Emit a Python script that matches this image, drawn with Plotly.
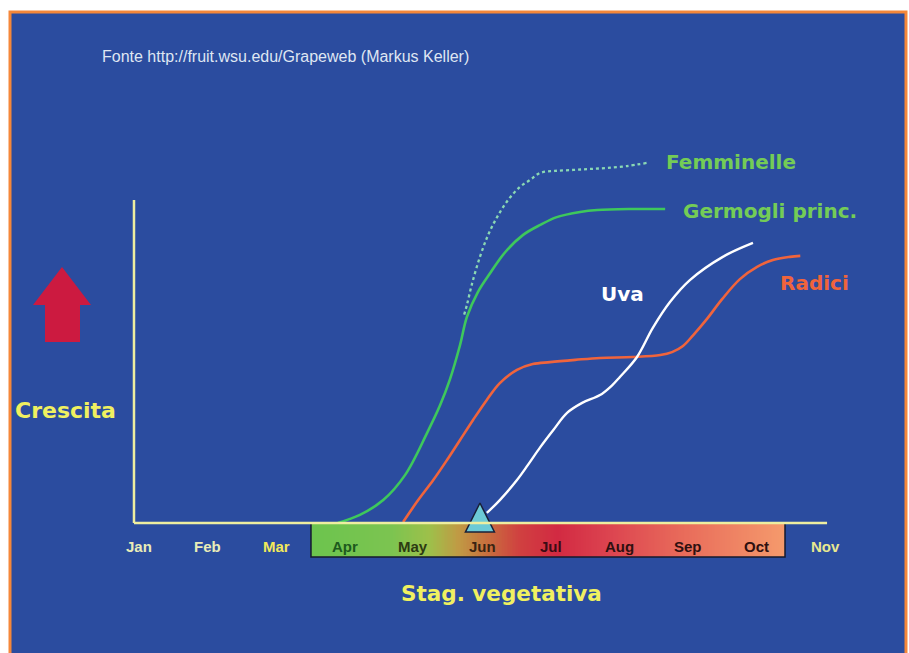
import numpy as np
import plotly.graph_objects as go

W, H = 909, 653

# ---------------- data ----------------
months = ["Jan", "Feb", "Mar", "Apr", "May", "Jun", "Jul", "Aug", "Sep", "Oct", "Nov"]
month_pos = [1, 2, 3, 4, 5, 6, 7, 8, 9, 10, 11]
month_colors = ["#e9ecb8", "#e9ecb8", "#f2e95a", "#1d5a1d", "#2c3a12", "#3a2412",
                "#3a0c14", "#2e1010", "#2e1010", "#2e1010", "#e8e890"]

# Germogli princ. (main shoots)
germ_x = [3.90, 4.22, 4.56, 4.88, 5.20, 5.39, 5.53, 5.68, 5.78, 5.94, 6.12, 6.34,
          6.60, 6.85, 7.09, 7.43, 7.68, 8.16, 8.67]
germ_y = [0.0, 2.5, 7.1, 14.9, 27.9, 36.5, 44.3, 55.1, 63.8, 71.5, 77.4, 83.9,
          89.2, 92.3, 94.7, 96.3, 96.9, 97.2, 97.2]

# Femminelle (lateral shoots)
femm_x = [5.74, 5.78, 5.85, 5.97, 6.09, 6.22, 6.38, 6.55, 6.70, 6.85, 7.06, 7.33,
          7.57, 7.82, 8.11, 8.41]
femm_y = [64.5, 67.5, 73.7, 82.4, 89.2, 94.7, 100.0, 104.0, 106.2, 108.4, 109.0,
          109.3, 109.6, 109.9, 110.5, 111.5]

# Radici (roots)
rad_x = [4.85, 5.07, 5.29, 5.49, 5.68, 5.87, 6.07, 6.26, 6.51, 6.74, 6.99, 7.36,
         7.72, 8.20, 8.60, 8.77, 8.93, 9.08, 9.28, 9.50, 9.76, 10.01, 10.24,
         10.49, 10.64]
rad_y = [0.3, 7.1, 13.3, 19.5, 25.7, 31.9, 38.1, 43.3, 47.4, 49.2, 49.8, 50.5,
         51.1, 51.4, 52.0, 52.9, 54.8, 58.2, 63.2, 69.3, 75.5, 79.3, 81.4,
         82.4, 82.7]

# Uva (berries)
uva_x = [6.07, 6.26, 6.51, 6.67, 6.85, 7.04, 7.24, 7.46, 7.72, 7.90, 8.01, 8.26,
         8.49, 8.74, 9.03, 9.51, 9.95]
uva_y = [3.1, 7.1, 13.3, 18.0, 23.5, 28.8, 34.1, 37.2, 39.6, 42.7, 45.2, 51.4,
         60.4, 68.4, 75.2, 82.4, 86.7]

# fruit-set marker (triangle)
set_x = [5.97]
set_y = [6.2]

# season bar colour stops (fraction along bar, colour)
season_stops = [[0.0, "#6cc44e"], [0.17, "#7cc450"], [0.25, "#9ec04a"],
                [0.31, "#c09a44"], [0.37, "#c8703e"], [0.44, "#d04040"],
                [0.52, "#d22a42"], [0.63, "#dc4450"], [0.78, "#e86a5a"],
                [1.0, "#f59a6c"]]

# ---------------- geometry helpers ----------------
X_RANGE = [-1.0262, 12.2245]   # months across full figure width
Y_RANGE = [-40.25, 161.92]     # growth units across full figure height
BAR_X = [3.507, 10.417]
BAR_Y = [-10.53, 0.0]
AXIS_X0, AXIS_X1, AXIS_YTOP = 0.927, 11.03, 100.0


def px(x):
    return x / W


def py(y):
    return 1 - y / H


fig = go.Figure()

# season gradient bar
n = 300
edges = np.linspace(BAR_X[0], BAR_X[1], n + 1)
fig.add_trace(go.Heatmap(
    x=edges, y=BAR_Y, z=[np.linspace(0, 1, n)], colorscale=season_stops,
    zmin=0, zmax=1, showscale=False, hoverinfo="skip"))

fig.add_trace(go.Scatter(x=femm_x, y=femm_y, mode="lines",
                         line=dict(color="#8ad8b4", width=2.3, dash="dot", shape="spline"),
                         hoverinfo="skip"))
fig.add_trace(go.Scatter(x=germ_x, y=germ_y, mode="lines",
                         line=dict(color="#3ec85c", width=2.6, shape="spline"),
                         hoverinfo="skip"))
fig.add_trace(go.Scatter(x=rad_x, y=rad_y, mode="lines",
                         line=dict(color="#f0643c", width=2.6, shape="spline"),
                         hoverinfo="skip"))
fig.add_trace(go.Scatter(x=uva_x, y=uva_y, mode="lines",
                         line=dict(color="#ffffff", width=2.4, shape="spline"),
                         hoverinfo="skip"))
fig.add_trace(go.Scatter(x=set_x, y=set_y, mode="markers", cliponaxis=False,
                         marker=dict(symbol="arrow-up", size=29, color="#6ccad6",
                                     line=dict(color="#1a2038", width=1.5)),
                         hoverinfo="skip"))

shapes = [
    # blue panel with orange frame
    dict(type="rect", xref="paper", yref="paper", x0=px(10), x1=px(906),
         y0=-0.05, y1=py(12), fillcolor="#2b4c9f",
         line=dict(color="#f5873a", width=3), layer="below"),
    # bar outline
    dict(type="rect", xref="x", yref="y", x0=BAR_X[0], x1=BAR_X[1],
         y0=BAR_Y[0], y1=BAR_Y[1], line=dict(color="#161a2e", width=1.5),
         fillcolor="rgba(0,0,0,0)", layer="above"),
    # axes
    dict(type="line", xref="x", yref="y", x0=AXIS_X0, x1=AXIS_X1, y0=0, y1=0,
         line=dict(color="#eeeea0", width=2.5), layer="above"),
    dict(type="line", xref="x", yref="y", x0=AXIS_X0, x1=AXIS_X0, y0=0,
         y1=AXIS_YTOP, line=dict(color="#eeeea0", width=2.5), layer="above"),
    # red growth arrow
    dict(type="path", xref="paper", yref="paper",
         path=(f"M{px(62)},{py(267)} L{px(91)},{py(305)} L{px(80)},{py(305)} "
               f"L{px(80)},{py(342)} L{px(45)},{py(342)} L{px(45)},{py(305)} "
               f"L{px(33)},{py(305)} Z"),
         fillcolor="#cc1a40", line=dict(width=0), layer="above"),
]

FONT = "DejaVu Sans"
annotations = []
for m, pos, col in zip(months, month_pos, month_colors):
    annotations.append(dict(x=pos, y=-7.4, xref="x", yref="y", text=f"<b>{m}</b>",
                            showarrow=False, xanchor="center", yanchor="middle",
                            font=dict(family="Liberation Sans", size=15, color=col)))


def label(text, x, y, color, size, anchor="left", bold=True, family=FONT):
    t = f"<b>{text}</b>" if bold else text
    annotations.append(dict(x=px(x), y=py(y), xref="paper", yref="paper", text=t,
                            showarrow=False, xanchor=anchor, yanchor="middle",
                            font=dict(family=family, size=size, color=color)))


label("Fonte http://fruit.wsu.edu/Grapeweb (Markus Keller)", 100, 57, "#dfe6f2", 16,
      bold=False, family="Liberation Sans")
label("Femminelle", 664, 162, "#74cc56", 20)
label("Germogli princ.", 681, 211, "#74cc56", 20)
label("Uva", 599, 294, "#ffffff", 20)
label("Radici", 778, 283, "#f0643c", 20)
label("Crescita", 13, 410, "#f0f060", 22)
label("Stag. vegetativa", 501, 593, "#f0f060", 21.5, anchor="center")

fig.update_layout(
    width=W, height=H, margin=dict(l=0, r=0, t=0, b=0),
    paper_bgcolor="#ffffff", plot_bgcolor="rgba(0,0,0,0)",
    showlegend=False,
    xaxis=dict(range=X_RANGE, visible=False, domain=[0, 1], fixedrange=True),
    yaxis=dict(range=Y_RANGE, visible=False, domain=[0, 1], fixedrange=True),
    shapes=shapes, annotations=annotations,
)

fig.write_html("out.html", config={"displayModeBar": False},
               post_script="document.body.style.margin='0';document.body.style.padding='0';")
